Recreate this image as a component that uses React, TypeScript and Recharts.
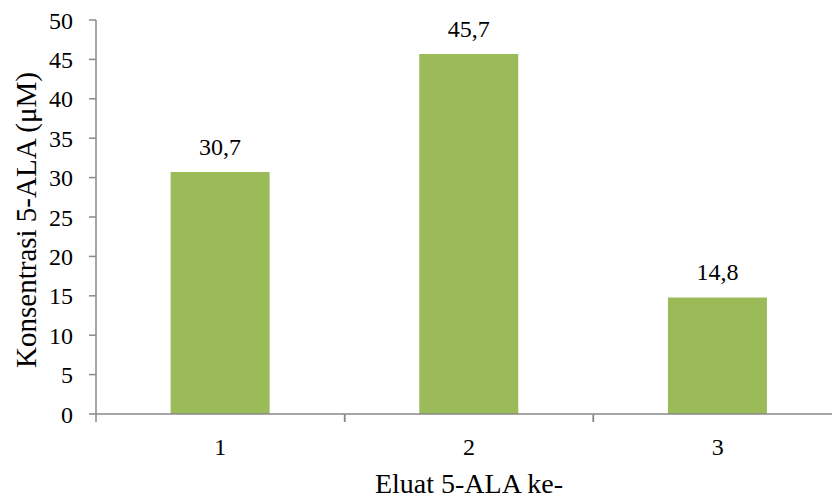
import React from 'react';
import { BarChart, Bar, XAxis, YAxis, LabelList, Label } from 'recharts';

const categories = ['1', '2', '3'];
const concentrations = [30.7, 45.7, 14.8];
const yTicks = [0, 5, 10, 15, 20, 25, 30, 35, 40, 45, 50];

const data = categories.map((c, i) => ({ eluat: c, value: concentrations[i] }));

const FONT = "'Liberation Serif', 'Times New Roman', serif";
const AXIS_COLOR = '#898989';
const BAR_COLOR = '#9BBB59';

// category ticks drawn between bars, label centred under each bar
const EluatTick = (props: any) => {
  const { x, y, payload } = props;
  const half = payload && payload.offset ? payload.offset : 0;
  return (
    <g>
      <line x1={x - half} x2={x - half} y1={y} y2={y + 8} stroke={AXIS_COLOR} strokeWidth={1.5} />
      <line x1={x + half} x2={x + half} y1={y} y2={y + 8} stroke={AXIS_COLOR} strokeWidth={1.5} />
      <text x={x} y={y + 41} textAnchor="middle" fill="#000" fontFamily={FONT} fontSize={24}>
        {payload.value}
      </text>
    </g>
  );
};

const YTitle = (props: any) => {
  const vb = props.viewBox || { x: 0, y: 20, width: 96, height: 394 };
  const cy = vb.y + vb.height / 2 + 3;
  return (
    <text
      x={36}
      y={cy}
      transform={`rotate(-90, 36, ${cy})`}
      textAnchor="middle"
      fill="#000"
      fontFamily={FONT}
      fontSize={29}
    >
      Konsentrasi 5-ALA (μM)
    </text>
  );
};

export default function App() {
  return (
    <div style={{ position: 'absolute', left: 0, top: 0, width: 832, height: 499, overflow: 'hidden', background: '#fff', fontFamily: FONT }}>
      <BarChart
        width={850}
        height={499}
        data={data}
        margin={{ top: 20, right: 8, left: 0, bottom: 0 }}
        barCategoryGap="30%"
      >
        <XAxis
          dataKey="eluat"
          height={85}
          stroke={AXIS_COLOR}
          strokeWidth={1.5}
          tickLine={false}
          tickSize={0}
          tickMargin={0}
          tick={<EluatTick />}
          interval={0}
        >
          <Label
            value="Eluat 5-ALA ke-"
            position="insideBottom"
            offset={6}
            fill="#000"
            fontFamily={FONT}
            fontSize={28}
          />
        </XAxis>
        <YAxis
          width={96}
          domain={[0, 50]}
          ticks={yTicks}
          interval={0}
          stroke={AXIS_COLOR}
          strokeWidth={1.5}
          tickSize={7}
          tickMargin={16}
          tick={{ fill: '#000', fontFamily: FONT, fontSize: 24 }}
          label={<YTitle />}
        />
        <Bar dataKey="value" fill={BAR_COLOR} isAnimationActive={false}>
          <LabelList
            dataKey="value"
            position="top"
            offset={17}
            formatter={(v: any) => String(v).replace('.', ',')}
            fill="#000"
            fontFamily={FONT}
            fontSize={24}
          />
        </Bar>
      </BarChart>
    </div>
  );
}
